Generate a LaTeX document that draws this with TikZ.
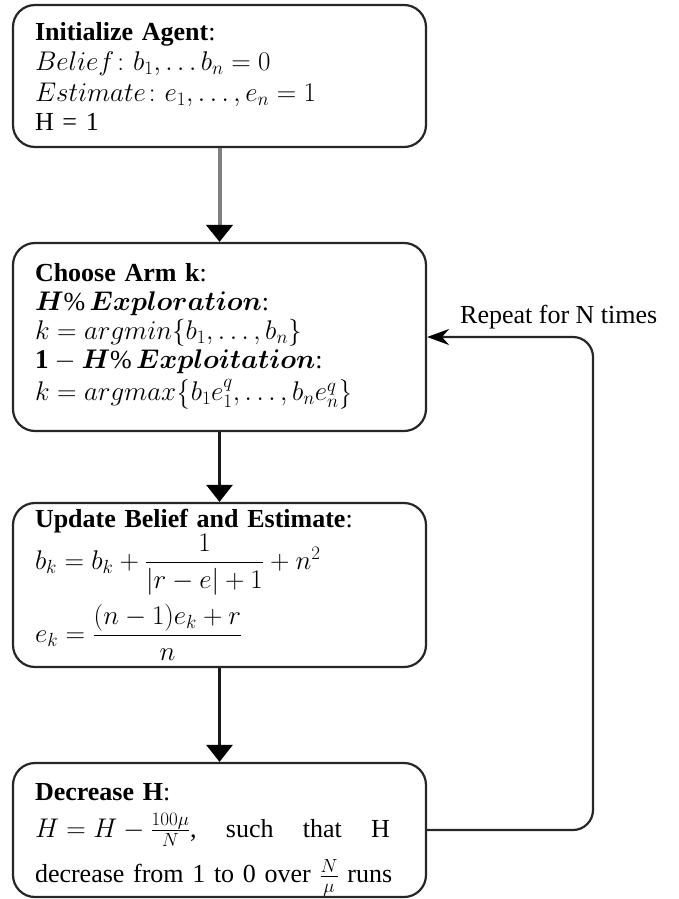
\documentclass[tikz,border=0pt]{standalone}
\usepackage{fix-cm}
\usepackage{amsmath,bm}
\usepackage{fontspec}
\setmainfont{Liberation Serif}
\usetikzlibrary{arrows.meta}
\DeclareMathSizes{26}{27}{19}{14}
\begin{document}
\begin{tikzpicture}[x=1pt,y=-1pt,
  box/.style={draw=black!85, line width=2.2pt, rounded corners=22pt,
    minimum width=413pt, text width=369pt, inner xsep=22pt, inner ysep=0pt,
    align=left, anchor=center, font=\fontsize{26}{29}\selectfont},
  flow/.style={line width=2.8pt, draw=black!90,
    -{Triangle[width=26pt,length=17pt,black]}},
  loopline/.style={line width=2.2pt, draw=black!85, rounded corners=20pt,
    -{Stealth[width=16pt,length=22pt,black]}},
  lbl/.style={font=\fontsize{26}{29}\selectfont, inner sep=0pt}
]
\useasboundingbox (0,0) rectangle (679,899);

\node[box, minimum height=142pt] (b1) at (219.5,76) {%
\textbf{Initialize Agent}:\\[1pt]
$Belief\colon b_1,\ldots b_n=0$\\[2pt]
$Estimate\colon e_1,\ldots,e_n=1$\\
H = 1};

\node[box, minimum height=188pt] (b2) at (219.5,337) {%
\textbf{Choose Arm k}:\\
$\bm{H}$\%\,$\bm{Exploration}$:\\
$k=argmin\{b_1,\ldots,b_n\}$\\
$\mathbf{1}-\bm{H}$\%\,$\bm{Exploitation}$:\\[3pt]
$k=argmax\bigl\{b_1e_1^q,\ldots,b_ne_n^q\bigr\}$\\[10pt]};

\node[box, minimum height=164pt] (b3) at (219.5,585) {%
\textbf{Update Belief and Estimate}:\\
$b_k=b_k+\dfrac{1}{|r-e|+1}+n^2$\\[8pt]
$e_k=\dfrac{(n-1)e_k+r}{n}$\\[12pt]};

\node[box, minimum height=134pt] (b4) at (219.5,830) {%
\rule{0pt}{36pt}\textbf{Decrease H}:\\[8pt]
\makebox[355pt][l]{$H=H-\frac{100\mu}{N}$,\hfill such\hfill that\hfill H}\\[12pt]
decrease from 1 to 0 over $\frac{N}{\mu}$ runs};

\node[lbl, anchor=base west] (rep) at (460,323) {Repeat for N times};

\coordinate (loopx) at (593,0);

\draw[flow, draw=black!50, line width=4pt] (b1.south) -- (b2.north);
\draw[flow] (b2.south) -- (b3.north);
\draw[flow] (b3.south) -- (b4.north);
\draw[loopline] (b4.east) -| (loopx |- b2.east) -- (b2.east);
\end{tikzpicture}
\end{document}
